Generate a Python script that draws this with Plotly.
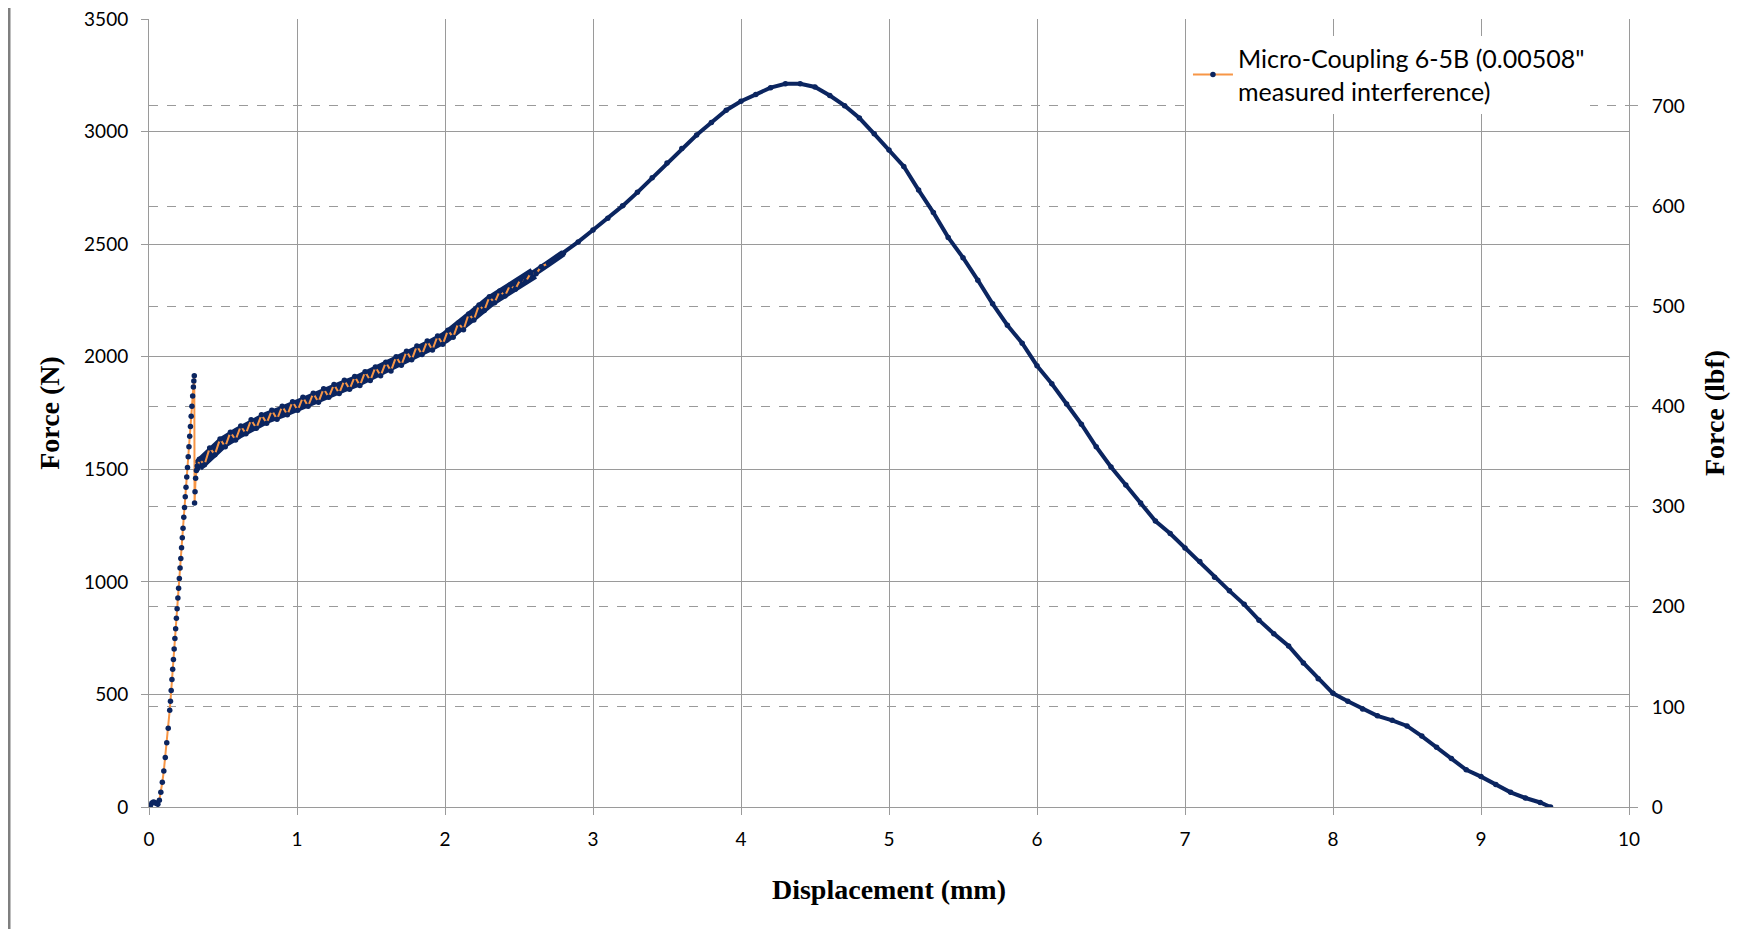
import plotly.graph_objects as go

# ---- data (Displacement mm, Force N) ----
rise_disp = [0.0, 0.01, 0.02, 0.03, 0.04, 0.05, 0.06, 0.07, 0.08, 0.09, 0.10, 0.11, 0.12, 0.13, 0.14,
             0.145, 0.15, 0.155, 0.16, 0.165, 0.17, 0.175, 0.18, 0.185, 0.19, 0.195, 0.20, 0.205,
             0.21, 0.215, 0.22, 0.225, 0.23, 0.235, 0.24, 0.245, 0.25, 0.255, 0.26, 0.265, 0.27,
             0.275, 0.28, 0.285, 0.29, 0.295, 0.30, 0.303, 0.306,
             0.308, 0.311, 0.315, 0.32, 0.326, 0.33]
rise_force = [0, 8, 18, 22, 20, 15, 12, 30, 65, 110, 160, 220, 285, 350, 430,
              470, 518, 566, 612, 655, 702, 748, 792, 838, 880, 928, 972, 1015,
              1062, 1104, 1152, 1196, 1238, 1287, 1330, 1378, 1420, 1466, 1508, 1556, 1600,
              1647, 1690, 1736, 1780, 1826, 1866, 1892, 1915,
              1350, 1400, 1460, 1495, 1515, 1505]

# oscillating (stick-slip) section
noisy_disp = [0.34, 0.375, 0.41, 0.445, 0.48, 0.515, 0.55, 0.585, 0.62, 0.655, 0.69, 0.725,
              0.76, 0.795, 0.83, 0.865, 0.9, 0.935, 0.97, 1.005, 1.04, 1.075, 1.11, 1.145,
              1.18, 1.215, 1.25, 1.285, 1.32, 1.355, 1.39, 1.425, 1.46, 1.495, 1.53, 1.565,
              1.6, 1.635, 1.67, 1.705, 1.74, 1.775, 1.81, 1.845, 1.88, 1.915, 1.95, 1.985,
              2.02, 2.055, 2.09, 2.125, 2.16, 2.195, 2.23, 2.265, 2.3, 2.335, 2.37, 2.405,
              2.44, 2.475, 2.51, 2.545, 2.58, 2.615, 2.65]
noisy_force = [1545, 1520, 1595, 1565, 1635, 1600, 1665, 1630, 1692, 1658, 1720, 1682,
               1742, 1705, 1762, 1722, 1780, 1742, 1800, 1762, 1820, 1780, 1838, 1798,
               1858, 1820, 1877, 1837, 1895, 1855, 1912, 1872, 1933, 1894, 1954, 1915,
               1975, 1937, 2000, 1962, 2024, 1986, 2048, 2010, 2070, 2030, 2092, 2055,
               2118, 2086, 2150, 2120, 2190, 2163, 2230, 2205, 2266, 2240, 2292, 2270,
               2318, 2300, 2344, 2333, 2372, 2368, 2400]

# mid-line of the oscillating band
band_disp = [0.33, 0.4, 0.5, 0.6, 0.7, 0.8, 0.9, 1.0, 1.1, 1.2, 1.3, 1.4, 1.5, 1.6, 1.7,
             1.8, 1.9, 2.0, 2.1, 2.2, 2.3, 2.4, 2.5, 2.6]
band_force = [1515, 1565, 1620, 1660, 1700, 1730, 1755, 1785, 1810, 1840, 1865, 1890, 1920,
              1950, 1985, 2020, 2050, 2085, 2130, 2190, 2245, 2285, 2325, 2370]
# narrower tail of the band where it merges into the smooth curve
tail_disp = [2.45, 2.5, 2.6, 2.7, 2.8]
tail_force = [2305, 2325, 2370, 2415, 2460]

smooth_disp = [2.7, 2.8, 2.9, 3.0, 3.1, 3.2, 3.3, 3.4, 3.5, 3.6, 3.7, 3.8, 3.9, 4.0, 4.1,
               4.2, 4.3, 4.4, 4.5, 4.6, 4.7, 4.8, 4.9, 5.0, 5.1, 5.2, 5.3, 5.4, 5.5, 5.6,
               5.7, 5.8, 5.9, 6.0, 6.1, 6.2, 6.3, 6.4, 6.5, 6.6, 6.7, 6.8, 6.9, 7.0, 7.1,
               7.2, 7.3, 7.4, 7.5, 7.6, 7.7, 7.8, 7.9, 8.0, 8.1, 8.2, 8.3, 8.4, 8.5, 8.6,
               8.7, 8.8, 8.9, 9.0, 9.1, 9.2, 9.3, 9.4, 9.47]
smooth_force = [2415, 2460, 2510, 2563, 2615, 2670, 2730, 2795, 2860, 2925, 2985, 3040, 3095,
                3135, 3165, 3195, 3212, 3212, 3198, 3160, 3115, 3060, 2990, 2918, 2845, 2740,
                2640, 2530, 2440, 2340, 2235, 2140, 2060, 1960, 1880, 1790, 1700, 1600, 1510,
                1430, 1350, 1270, 1215, 1150, 1090, 1020, 960, 900, 830, 770, 715, 640, 570,
                505, 470, 435, 405, 385, 360, 315, 265, 215, 165, 135, 100, 65, 40, 20, 0]

series_name = 'Micro-Coupling 6-5B (0.00508"<br>measured interference)'
x_ticks = [0, 1, 2, 3, 4, 5, 6, 7, 8, 9, 10]
n_ticks = [0, 500, 1000, 1500, 2000, 2500, 3000, 3500]
lbf_ticks = [0, 100, 200, 300, 400, 500, 600, 700]
N_PER_LBF = 4.44822

disp = rise_disp + noisy_disp + smooth_disp
force = rise_force + noisy_force + smooth_force

NAVY = "#0B2560"
ORANGE = "#F79646"
GRID = "#9A9A9A"
TICKFONT = dict(family="Lato", size=19, color="#000000")
TITLEFONT = dict(family="Liberation Serif", size=28, color="#000000")

ML, MR, MT, MB = 141, 139, 11, 130
PW = 1760 - ML - MR

fig = go.Figure()
# band underlay for the dense oscillating section
fig.add_trace(go.Scatter(
    x=band_disp, y=band_force, mode="lines", showlegend=False,
    line=dict(color=NAVY, width=12), hoverinfo="skip",
))
fig.add_trace(go.Scatter(
    x=tail_disp, y=tail_force, mode="lines", showlegend=False,
    line=dict(color=NAVY, width=7), hoverinfo="skip",
))
fig.add_trace(go.Scatter(
    x=disp, y=force, mode="lines+markers", name=series_name,
    line=dict(color=ORANGE, width=2),
    marker=dict(color=NAVY, size=5.5, line=dict(width=0)),
))
# dense smooth part appears as a solid navy band
fig.add_trace(go.Scatter(
    x=smooth_disp, y=smooth_force, mode="lines", showlegend=False,
    line=dict(color=NAVY, width=4), hoverinfo="skip",
))
# invisible trace to activate the secondary (lbf) axis
fig.add_trace(go.Scatter(
    x=[x_ticks[0]], y=[lbf_ticks[0]], yaxis="y2", mode="markers",
    marker=dict(opacity=0), showlegend=False, hoverinfo="skip",
))

fig.update_layout(
    width=1760, height=929,
    paper_bgcolor="white", plot_bgcolor="white",
    margin=dict(l=ML, r=MR, t=MT, b=MB, autoexpand=False),
    showlegend=True,
    legend=dict(x=0.702, y=0.979, xanchor="left", yanchor="top",
                bgcolor="white", borderwidth=0,
                font=dict(family="Lato", size=25, color="#000000"),
                itemwidth=40, tracegroupgap=0),
    xaxis=dict(
        range=[0, 10], tickvals=x_ticks, ticks="outside", ticklen=7, tickcolor=GRID,
        showgrid=True, gridcolor=GRID, gridwidth=1, automargin=False,
        showline=True, linecolor=GRID, linewidth=1, mirror=False,
        zeroline=False, tickfont=TICKFONT, ticklabelstandoff=8,
        ticklabeloverflow="allow",
        title=dict(text="<b>Displacement (mm)</b>", font=TITLEFONT, standoff=30),
    ),
    yaxis=dict(
        range=[0, 3500], tickvals=n_ticks, ticks="outside", ticklen=7, tickcolor=GRID,
        showgrid=True, gridcolor=GRID, gridwidth=1, automargin=False,
        showline=True, linecolor=GRID, linewidth=1,
        zeroline=False, tickfont=TICKFONT, ticklabelstandoff=9,
        ticklabeloverflow="allow",
        title=dict(text="<b>Force (N)</b>", font=TITLEFONT, standoff=16),
    ),
    yaxis2=dict(
        overlaying="y", side="right", range=[0, 3500 / N_PER_LBF], tickvals=lbf_ticks,
        ticks="outside", ticklen=8, tickcolor=GRID, automargin=False,
        showgrid=True, gridcolor=GRID, gridwidth=1, griddash="dash",
        showline=True, linecolor=GRID, linewidth=1,
        zeroline=False, tickfont=TICKFONT, ticklabelstandoff=10,
        ticklabeloverflow="allow",
        title=dict(text="<b>Force (lbf)</b>", font=TITLEFONT, standoff=20),
    ),
)

# outer chart frame
fig.add_shape(type="line", xref="paper", yref="paper",
              x0=(1 - ML) / PW, x1=(1 - ML) / PW, y0=-2, y1=2,
              line=dict(color="#7F7F7F", width=3))
fig.add_shape(type="line", xref="paper", yref="paper",
              x0=(1746 - ML) / PW, x1=(1746 - ML) / PW, y0=-2, y1=2,
              line=dict(color="#7F7F7F", width=3))

fig.write_html("out.html")
